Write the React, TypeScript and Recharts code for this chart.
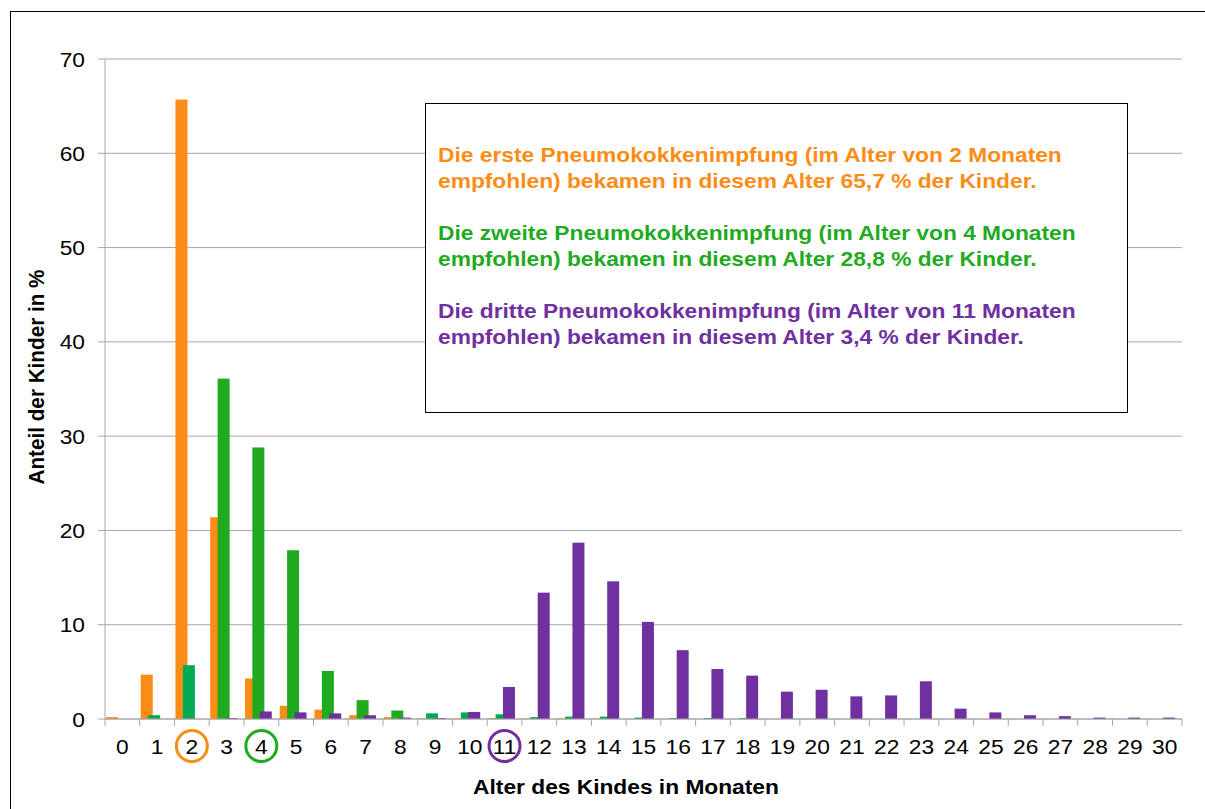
import { Bar, BarChart, CartesianGrid, XAxis, YAxis } from "recharts";

// Alter des Kindes in Monaten
const months = [0, 1, 2, 3, 4, 5, 6, 7, 8, 9, 10, 11, 12, 13, 14, 15, 16, 17, 18, 19, 20, 21, 22, 23, 24, 25, 26, 27, 28, 29, 30];

// Anteil der Kinder in % je Impfung
const ersteImpfung = [0.2, 4.7, 65.7, 21.4, 4.3, 1.4, 1.0, 0.4, 0.2, 0.1, 0.05, 0.1, 0.05, 0.05, 0.05, 0, 0, 0, 0, 0, 0, 0, 0, 0, 0, 0, 0, 0, 0, 0, 0];
const zweiteImpfung = [0, 0, 0, 36.1, 28.8, 17.9, 5.1, 2.0, 0.9, 0, 0, 0, 0, 0, 0, 0, 0, 0, 0, 0, 0, 0, 0, 0, 0, 0, 0, 0, 0, 0, 0];
const zweiteImpfungTuerkis = [0, 0.4, 5.7, 0, 0, 0, 0, 0, 0, 0.6, 0.7, 0.5, 0.2, 0.25, 0.25, 0.15, 0.1, 0.1, 0.1, 0, 0, 0, 0, 0, 0, 0, 0, 0, 0, 0, 0];
const dritteImpfung = [0, 0, 0, 0.1, 0.8, 0.7, 0.6, 0.4, 0.15, 0.1, 0.75, 3.4, 13.4, 18.7, 14.6, 10.3, 7.3, 5.3, 4.6, 2.9, 3.1, 2.4, 2.5, 4.0, 1.1, 0.7, 0.4, 0.3, 0.15, 0.15, 0.15];

const yTicks = [0, 10, 20, 30, 40, 50, 60, 70];
const markedMonths = [2, 4, 11];

const ORANGE = "#fb8c16";
const GREEN = "#1faa1f";
const TEAL = "#00aa52";
const PURPLE = "#7030a0";
const AXIS = "#a6a6a6";
const FONT = '"Liberation Sans", Arial, sans-serif';
const STRETCH = 1.11;

const W = 1205;
const H = 809;
const PLOT_LEFT = 105;
const PLOT_RIGHT = 1182;
const PLOT_TOP = 59;
const PLOT_BOTTOM = 719;
const HALF_BAND = (PLOT_RIGHT - PLOT_LEFT) / months.length / 2;
const BAR_SHIFT = -3;

const markColors = [ORANGE, GREEN, PURPLE];

const data = months.map((month, i) => ({
  month,
  erste: ersteImpfung[i],
  zweite: zweiteImpfung[i],
  zweiteT: zweiteImpfungTuerkis[i],
  dritte: dritteImpfung[i]
}));

const boxLines = [
  { text: "Die erste Pneumokokkenimpfung (im Alter von 2 Monaten", color: ORANGE },
  { text: "empfohlen) bekamen in diesem Alter 65,7 % der Kinder.", color: ORANGE },
  { text: "", color: ORANGE },
  { text: "Die zweite Pneumokokkenimpfung (im Alter von 4 Monaten", color: GREEN },
  { text: "empfohlen) bekamen in diesem Alter 28,8 % der Kinder.", color: GREEN },
  { text: "", color: GREEN },
  { text: "Die dritte Pneumokokkenimpfung (im Alter von 11 Monaten", color: PURPLE },
  { text: "empfohlen) bekamen in diesem Alter 3,4 % der Kinder.", color: PURPLE }
];

const MonthTick = ({ x, payload, index }: any) => {
  const markIndex = markedMonths.indexOf(payload.value);
  return (
    <g>
      <line x1={x - HALF_BAND} x2={x - HALF_BAND} y1={PLOT_BOTTOM} y2={PLOT_BOTTOM + 7} stroke={AXIS} />
      {index === months.length - 1 && (
        <line x1={x + HALF_BAND} x2={x + HALF_BAND} y1={PLOT_BOTTOM} y2={PLOT_BOTTOM + 7} stroke={AXIS} />
      )}
      {markIndex >= 0 && (
        <circle cx={x} cy={PLOT_BOTTOM + 27} r={15.5} fill="none" stroke={markColors[markIndex]} strokeWidth={3} />
      )}
      <g transform={`translate(${x},${PLOT_BOTTOM + 35})`}>
        <text transform={`scale(${STRETCH},1)`} textAnchor="middle" fontSize={20.5} fontFamily={FONT} fill="#000">
          {payload.value}
        </text>
      </g>
    </g>
  );
};

const ValueTick = ({ x, y, payload }: any) => (
  <g transform={`translate(${x},${y})`}>
    <text transform={`scale(${STRETCH},1)`} textAnchor="end" dy={7.5} fontSize={20.5} fontFamily={FONT} fill="#000">
      {payload.value}
    </text>
  </g>
);

const shiftedBar = (props: any) => (
  <rect
    x={props.x + BAR_SHIFT}
    y={props.y}
    width={props.width}
    height={Math.max(props.height || 0, 0)}
    fill={props.fill}
  />
);

export default function App() {
  return (
    <div style={{ position: "absolute", left: 0, top: 0, width: W, height: H, overflow: "hidden", background: "#fff", fontFamily: FONT }}>
      <div style={{ position: "absolute", left: 10, top: 11, width: W + 50, height: H + 50, border: "1px solid #000" }} />
      <div style={{ position: "absolute", left: 0, top: 0 }}>
        <BarChart
          width={W}
          height={H}
          data={data}
          margin={{ top: PLOT_TOP, right: W - PLOT_RIGHT, bottom: 30, left: PLOT_LEFT - 60 }}
          barSize={12}
          barGap={-4.6}
        >
          <CartesianGrid vertical={false} stroke={AXIS} />
          <XAxis
            dataKey="month"
            height={H - PLOT_BOTTOM - 30}
            axisLine={{ stroke: AXIS }}
            tickLine={false}
            interval={0}
            tick={(props: any) => <MonthTick {...props} />}
          />
          <YAxis
            width={60}
            domain={[0, 70]}
            ticks={yTicks}
            interval={0}
            axisLine={{ stroke: AXIS }}
            tickLine={{ stroke: AXIS }}
            tickSize={7}
            tickMargin={13}
            tick={(props: any) => <ValueTick {...props} />}
          />
          <Bar dataKey="erste" stackId="a-erste" fill={ORANGE} isAnimationActive={false} shape={shiftedBar} />
          <Bar dataKey="zweite" stackId="b-zweite" fill={GREEN} isAnimationActive={false} shape={shiftedBar} />
          <Bar dataKey="zweiteT" stackId="b-zweite" fill={TEAL} isAnimationActive={false} shape={shiftedBar} />
          <Bar dataKey="dritte" stackId="c-dritte" fill={PURPLE} isAnimationActive={false} shape={shiftedBar} />
        </BarChart>
      </div>
      <svg width={W} height={H} style={{ position: "absolute", left: 0, top: 0, pointerEvents: "none" }}>
        <g transform={`translate(44,377) scale(${STRETCH},1) rotate(-90)`}>
          <text textAnchor="middle" fontSize={20.7} fontWeight="bold" fontFamily={FONT} fill="#000">
            Anteil der Kinder in %
          </text>
        </g>
        <g transform={`translate(626,794) scale(${STRETCH},1)`}>
          <text textAnchor="middle" fontSize={20.5} fontWeight="bold" fontFamily={FONT} fill="#000">
            Alter des Kindes in Monaten
          </text>
        </g>
      </svg>
      <div
        style={{
          position: "absolute",
          left: 425,
          top: 103,
          width: 689,
          height: 270,
          border: "1px solid #000",
          background: "#fff",
          paddingTop: 38,
          paddingLeft: 12,
          boxSizing: "content-box"
        }}
      >
        {boxLines.map((line, i) => (
          <div
            key={i}
            style={{
              height: 26,
              lineHeight: "26px",
              fontSize: 20.5,
              fontWeight: "bold",
              color: line.color,
              whiteSpace: "nowrap",
              transform: `scaleX(${STRETCH})`,
              transformOrigin: "left"
            }}
          >
            {line.text}
          </div>
        ))}
      </div>
    </div>
  );
}
